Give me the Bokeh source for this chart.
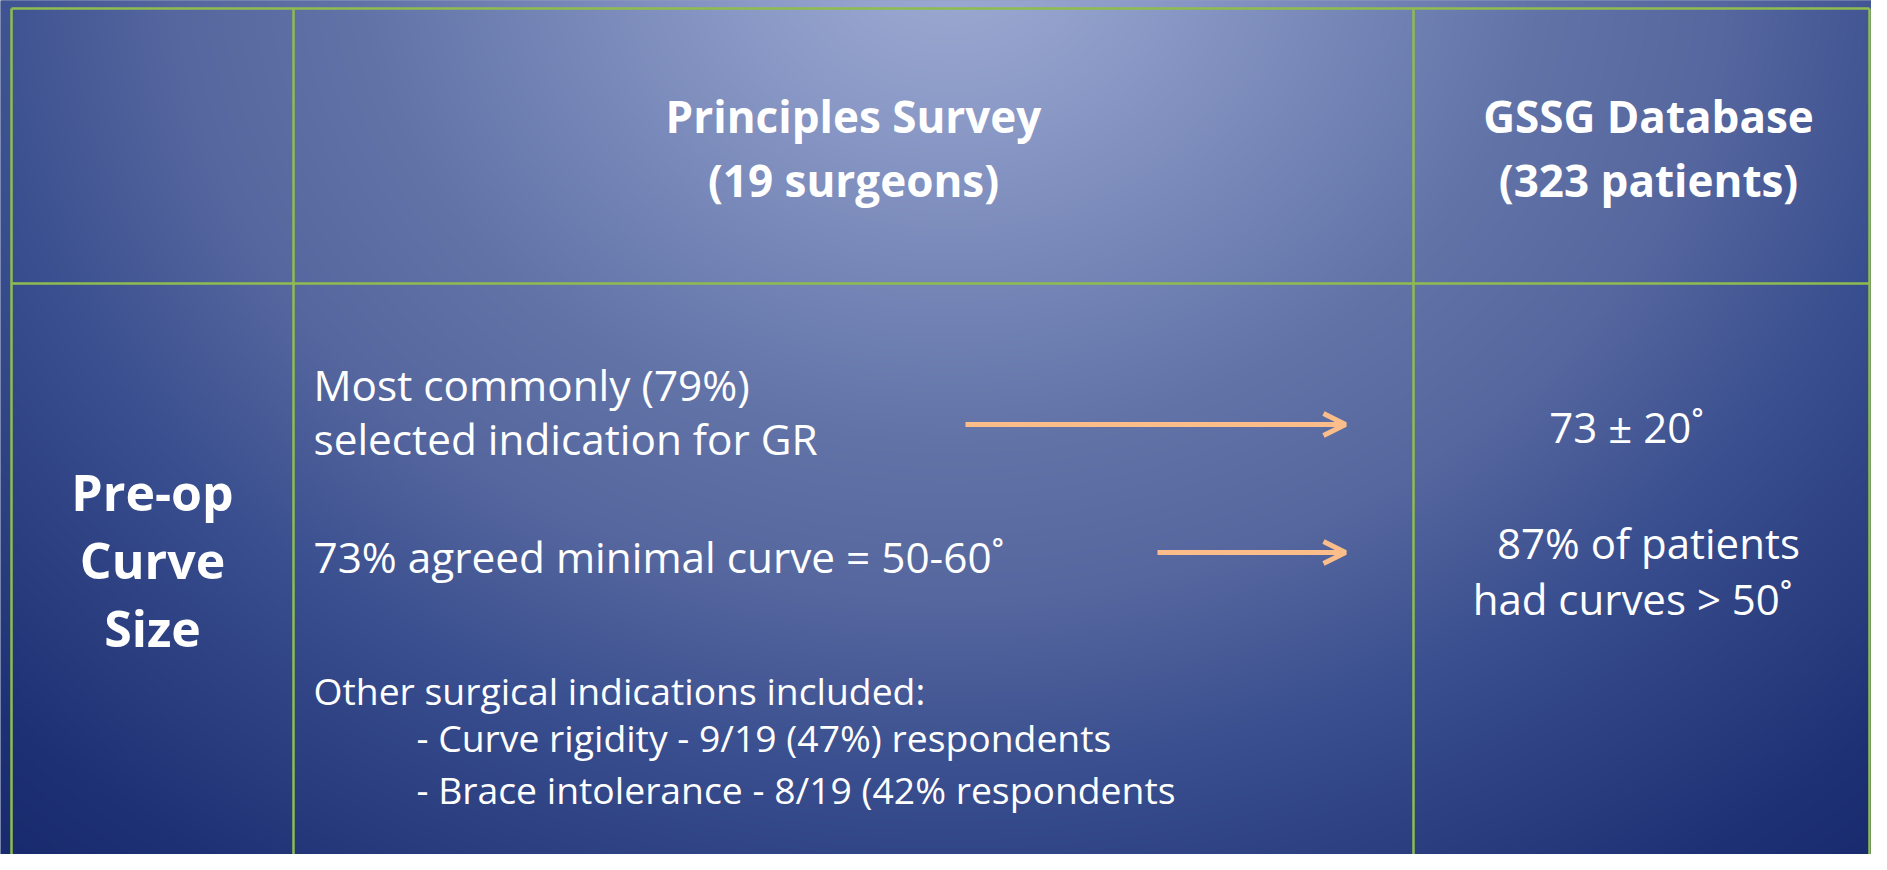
import numpy as np
from bokeh.plotting import figure
from bokeh.models import Range1d, Arrow, OpenHead
from bokeh.core.properties import value
from bokeh.embed import file_html
from bokeh.resources import INLINE

# ---------------- content ----------------
header_survey = ["Principles Survey", "(19 surgeons)"]
header_database = ["GSSG Database", "(323 patients)"]
row_label = ["Pre-op", "Curve", "Size"]
survey_main = ["Most commonly (79%)", "selected indication for GR",
               "73% agreed minimal curve = 50-60\u02da"]
survey_other = ["Other surgical indications included:"]
survey_sub = ["- Curve rigidity - 9/19 (47%) respondents",
              "- Brace intolerance - 8/19 (42% respondents"]
database_lines = ["73 \u00b1 20\u02da", "87% of patients", "had curves > 50\u02da"]

# ---------------- layout (reference pixel coordinates, y downward) ----------------
W, H = 1887, 870
PW, PH = 1871, 854
col_edges = [11, 293, 1413, 1883]
row_edges = [8, 283]
FONT = value("Open Sans")
WHITE = "#ffffff"
GRID = "#8fbc4f"
ARROW = "#fbbd8a"


def fy(y):
    return list(H - np.asarray(y, dtype=float))


p = figure(width=PW, height=PH, output_backend="svg", toolbar_location=None,
           x_range=Range1d(0, PW), y_range=Range1d(H - PH, H),
           x_axis_type=None, y_axis_type=None, min_border=0,
           outline_line_color=None)
p.grid.visible = False
p.background_fill_color = "#2a3f7e"
p.border_fill_color = "#2a3f7e"

# ---------------- background radial gradient ----------------
step = 2
xs = np.arange(0, W + step, step) + step / 2
yd = np.arange(0, H + step, step) + step / 2          # data y (upward)
X, YD = np.meshgrid(xs, yd)
Yref = H - YD
d = np.sqrt((X - 950) ** 2 + (1.2 * (Yref + 50)) ** 2)
stops_d = [0, 215, 590, 780, 980, 1320, 1500]
stops_r = [160, 138, 98, 86, 59, 30, 22]
stops_g = [172, 153, 115, 103, 80, 49, 40]
stops_b = [212, 198, 168, 159, 144, 116, 106]
R = np.interp(d, stops_d, stops_r).astype(np.uint32)
G = np.interp(d, stops_d, stops_g).astype(np.uint32)
B = np.interp(d, stops_d, stops_b).astype(np.uint32)
img = (255 << 24) | (B << 16) | (G << 8) | R
p.image_rgba(image=[img.astype(np.uint32)], x=0, y=0, dw=len(xs) * step, dh=len(yd) * step)

# ---------------- grid lines ----------------
vx = [min(c, PW - 2) for c in col_edges]
p.segment(x0=vx, y0=fy([row_edges[0]] * 4), x1=vx, y1=fy([H + 5] * 4),
          line_color=GRID, line_width=2.5)
p.segment(x0=[vx[0]] * 2, y0=fy(row_edges), x1=[vx[-1]] * 2,
          y1=fy(row_edges), line_color=GRID, line_width=2.5)

# ---------------- headers ----------------
c1 = (col_edges[1] + col_edges[2]) / 2
c2 = (col_edges[2] + col_edges[3]) / 2
hb = [115, 179]
p.text(x=[c1, c1, c2, c2], y=fy(hb + hb), text=header_survey + header_database,
       text_font=FONT, text_font_style="bold", text_font_size="44px",
       text_color=WHITE, text_align="center", text_baseline="alphabetic")

# ---------------- row label ----------------
c0 = (col_edges[0] + col_edges[1]) / 2
p.text(x=[c0] * 3, y=fy([491, 559, 627]), text=row_label,
       text_font=FONT, text_font_style="bold", text_font_size="50px",
       text_color=WHITE, text_align="center", text_baseline="alphabetic")

# ---------------- survey column ----------------
p.text(x=[313] * 3, y=fy([384, 438, 556]), text=survey_main,
       text_font=FONT, text_font_size="42.3px", text_color=WHITE,
       text_align="left", text_baseline="alphabetic")
p.text(x=[313], y=fy([690]), text=survey_other,
       text_font=FONT, text_font_size="37.3px", text_color=WHITE,
       text_align="left", text_baseline="alphabetic")
p.text(x=[416] * 2, y=fy([737, 789]), text=survey_sub,
       text_font=FONT, text_font_size="37.3px", text_color=WHITE,
       text_align="left", text_baseline="alphabetic")

# ---------------- database column ----------------
p.text(x=[1626, 1648, 1632], y=fy([426, 542, 598]), text=database_lines,
       text_font=FONT, text_font_size="42px", text_color=WHITE,
       text_align="center", text_baseline="alphabetic")

# ---------------- arrows ----------------
for xs0, yy in [(965, 424), (1157, 552)]:
    yv = fy([yy])[0]
    p.add_layout(Arrow(end=OpenHead(size=22, line_color=ARROW, line_width=5),
                       x_start=xs0, y_start=yv, x_end=1345, y_end=yv,
                       line_color=ARROW, line_width=5))

open("out.html", "w").write(file_html(p, INLINE))
